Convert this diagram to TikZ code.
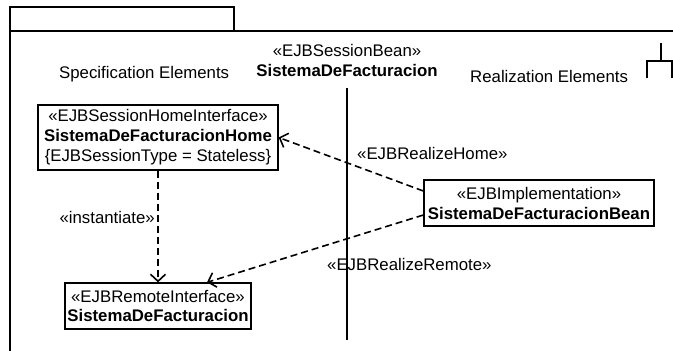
\documentclass[tikz,border=0pt]{standalone}
\usepackage{fontspec}
\setmainfont{Liberation Sans}
\usetikzlibrary{arrows.meta,positioning}

\begin{document}
\begin{tikzpicture}[
    x=1pt, y=-1pt,
    every node/.style={font=\fontsize{16.8}{20}\selectfont},
    frameline/.style={line width=1.3pt},
    element/.style={rectangle, draw, line width=1.3pt, align=center, inner sep=1pt},
    caption/.style={inner sep=0pt},
    realize/.style={line width=1.6pt, dash pattern=on 7pt off 4pt,
        -{Straight Barb[length=7pt,width=15pt]}},
    lifeline/.style={line width=2.6pt}
    ]

\useasboundingbox (0,0) rectangle (673,351);
\clip (0,0) rectangle (673,351);

% package frame
\draw[frameline] (10,31) rectangle (234,7);
\draw[frameline] (10,400) |- (700,31);
% subsystem icon
\draw[frameline] (661,43) -- (661,61) (647,78) |- (672,61) -- (672,78);

\node[caption, anchor=base] (beanstereo) at (347,56) {«EJBSessionBean»};
\node[caption, anchor=base] (bean) at ([yshift=-20pt]beanstereo.base) {\textbf{SistemaDeFacturacion}};

\node[caption, anchor=base west] (spec) at (59,78) {Specification Elements};
\node[caption, anchor=base west] (real) at (470,82) {Realization Elements};

\coordinate (barend) at (347,340);
\draw[lifeline] ([yshift=-12pt]bean.south) -- (barend);

\node[element, minimum width=240pt, minimum height=65pt] (home) at (158,137.5) {
	«EJBSessionHomeInterface»\\
	\textbf{SistemaDeFacturacionHome}\\
	\{EJBSessionType = Stateless\}
};

\node[element, minimum width=186pt, minimum height=46pt] (remote) at (158,306) {
	«EJBRemoteInterface»\\
	\textbf{SistemaDeFacturacion}
};

\node[element, minimum width=230pt, minimum height=46pt] (beanimpl) at (539,203) {
	«EJBImplementation»\\
	\textbf{SistemaDeFacturacionBean}
};

\draw[realize] ([yshift=12pt]beanimpl.west) -- (home.east);
\draw[realize] ([yshift=-12pt]beanimpl.west) -- ([xshift=49pt]remote.north);
\draw[realize] (home.south) -- (remote.north);

\node[caption, anchor=base west] (homelbl) at (357,159) {«EJBRealizeHome»};
\node[caption, anchor=base west] (remotelbl) at (327,270) {«EJBRealizeRemote»};
\node[caption, anchor=base east] (instlbl) at (155,223) {«instantiate»};

\end{tikzpicture}
\end{document}
